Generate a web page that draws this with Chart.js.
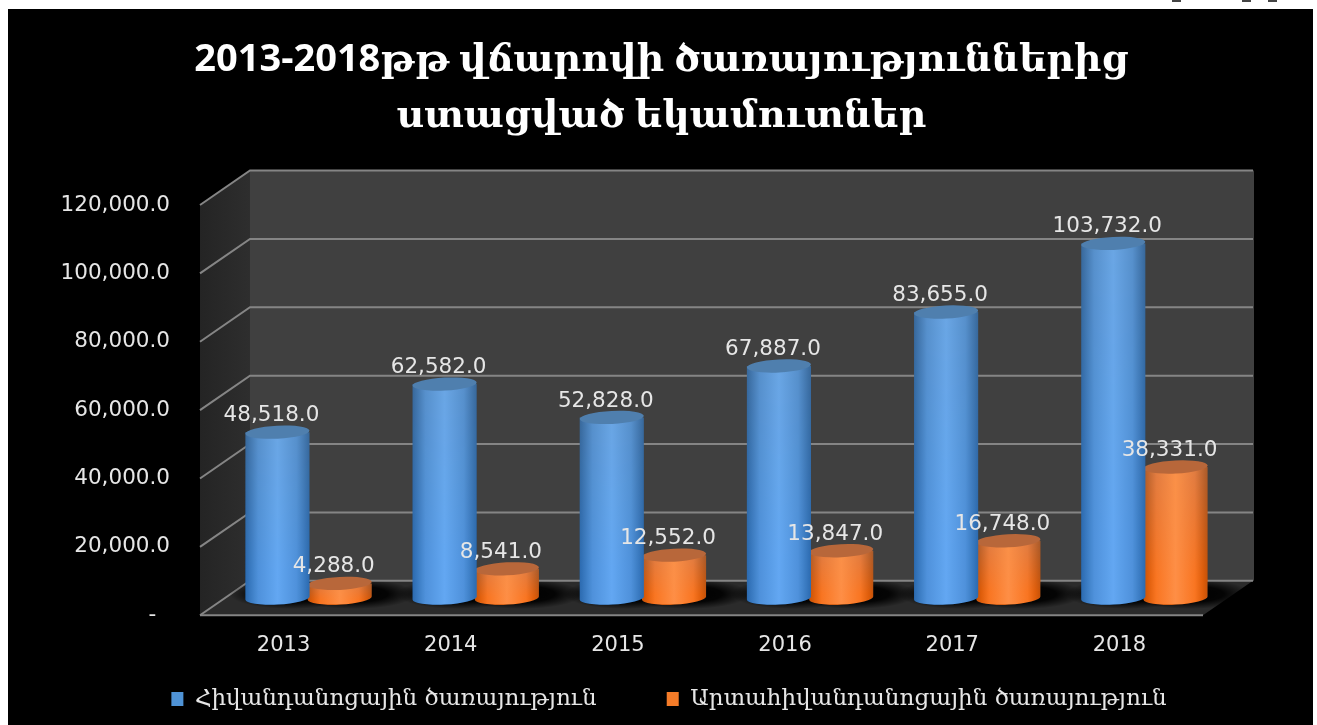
<!DOCTYPE html>
<html>
<head>
    <title>2013-2018</title>
    <script src="https://cdn.jsdelivr.net/npm/chart.js"></script>
    <style>
        html, body { margin: 0; padding: 0; background: #fff; }
        #wrap { width: 1317px; height: 725px; }
    </style>
</head>
<body>
    <div id="wrap"><canvas id="incomeChart" width="1317" height="725"></canvas></div>
    <script>
        const years = ['2013', '2014', '2015', '2016', '2017', '2018'];
        const inpatient = [48518, 62582, 52828, 67887, 83655, 103732];
        const outpatient = [4288, 8541, 12552, 13847, 16748, 38331];
        const seriesNames = ['Հիվանդանոցային ծառայություն', 'Արտահիվանդանոցային ծառայություն'];
        const titleLines = ['2013-2018թթ վճարովի ծառայություններից', 'ստացված եկամուտներ'];
        const seriesColors = ['#4f93d6', '#f47b28'];

        const cylinderColors = {
            '#4f93d6': { edge: '#38689a', mid: '#5790cb', light: '#6aa6e4', top: '#4f7fae', tint: '60,135,220', strength: 0.55 },
            '#f47b28': { edge: '#a85a2a', mid: '#e07c42', light: '#fa9048', top: '#b8673a', tint: '255,115,25', strength: 0.8 }
        };
        const depthX = 50, depthY = 34.5;

        // cylinder instead of flat bar
        Chart.BarElement.prototype.draw = function (ctx) {
            const { x, y, base, width } = this.getProps(['x', 'y', 'base', 'width']);
            const c = cylinderColors[this.options.backgroundColor];
            const rx = width / 2, ry = 6.5, left = x - rx;

            ctx.save();
            const side = ctx.createLinearGradient(left, 0, left + width, 0);
            side.addColorStop(0, c.edge);
            side.addColorStop(0.2, c.mid);
            side.addColorStop(0.5, c.light);
            side.addColorStop(0.8, c.mid);
            side.addColorStop(1, c.edge);
            ctx.beginPath();
            ctx.moveTo(left, y);
            ctx.lineTo(left, base);
            ctx.ellipse(x, base, rx, ry, -0.05, Math.PI, 0, true);
            ctx.lineTo(left + width, y);
            ctx.closePath();
            ctx.fillStyle = side;
            ctx.fill();

            // lower part more saturated, 'color' keeps the round shading
            const shade = ctx.createLinearGradient(0, y, 0, base + ry);
            shade.addColorStop(0, `rgba(${c.tint},0)`);
            shade.addColorStop(0.8, `rgba(${c.tint},${c.strength})`);
            shade.addColorStop(1, `rgba(${c.tint},${c.strength})`);
            ctx.globalCompositeOperation = 'color';
            ctx.fillStyle = shade;
            ctx.fill();
            ctx.globalCompositeOperation = 'source-over';

            ctx.beginPath();
            ctx.ellipse(x, y, rx, ry, -0.05, 0, Math.PI * 2);
            ctx.fillStyle = c.top;
            ctx.fill();
            ctx.restore();
        };

        const room = {
            id: 'room',
            afterLayout(chart) {
                // title and legend are not centred on the plot in the original
                chart.titleBlock.left += 35;
                chart.titleBlock.right += 35;
                chart.legend.left += 42.5;
                chart.legend.right += 42.5;
            },
            beforeDraw(chart) {
                const { ctx, chartArea: a, scales: { y } } = chart;
                ctx.save();
                ctx.fillStyle = '#000';
                ctx.fillRect(8, 9, chart.width - 12, chart.height - 9);

                // cut off bits of text above the slide
                ctx.fillStyle = '#444';
                [1172, 1242, 1268].forEach(x => ctx.fillRect(x, 0, 9, 2));

                // back wall
                ctx.fillStyle = '#404040';
                ctx.fillRect(a.left + depthX, a.top - depthY, a.width + 1, a.height);

                // side wall
                const sideFill = ctx.createLinearGradient(a.left, 0, a.left + depthX, 0);
                sideFill.addColorStop(0, '#242424');
                sideFill.addColorStop(1, '#2e2e2e');
                ctx.fillStyle = sideFill;
                ctx.beginPath();
                ctx.moveTo(a.left, a.top);
                ctx.lineTo(a.left + depthX, a.top - depthY);
                ctx.lineTo(a.left + depthX, a.bottom - depthY);
                ctx.lineTo(a.left, a.bottom);
                ctx.closePath();
                ctx.fill();

                // floor
                ctx.fillStyle = '#2b2b2b';
                ctx.beginPath();
                ctx.moveTo(a.left, a.bottom);
                ctx.lineTo(a.left + depthX, a.bottom - depthY);
                ctx.lineTo(a.right + depthX, a.bottom - depthY);
                ctx.lineTo(a.right, a.bottom);
                ctx.closePath();
                ctx.fill();

                // grid
                ctx.strokeStyle = '#858585';
                ctx.lineWidth = 2;
                y.ticks.forEach(t => {
                    const py = y.getPixelForValue(t.value);
                    ctx.beginPath();
                    ctx.moveTo(a.left, py);
                    ctx.lineTo(a.left + depthX, py - depthY);
                    ctx.lineTo(a.right + depthX, py - depthY);
                    ctx.stroke();
                });
                ctx.beginPath();
                ctx.moveTo(a.left, a.bottom);
                ctx.lineTo(a.right, a.bottom);
                ctx.stroke();
                ctx.restore();
            },
            beforeDatasetsDraw(chart) {
                const { ctx, chartArea: a } = chart;
                // soft shadows, on the floor only
                ctx.save();
                ctx.beginPath();
                ctx.rect(a.left, a.bottom - depthY + 1, a.width + depthX, depthY - 2);
                ctx.clip();
                ctx.translate(depthX / 2, -depthY / 2);
                chart.data.datasets.forEach((ds, i) => {
                    chart.getDatasetMeta(i).data.forEach(bar => {
                        const rx = bar.width / 2 + 30;
                        ctx.save();
                        ctx.translate(bar.x + 14, bar.base - 4);
                        ctx.scale(1, 15 / rx);
                        const blur = ctx.createRadialGradient(0, 0, 0, 0, 0, rx);
                        blur.addColorStop(0, 'rgba(0,0,0,1)');
                        blur.addColorStop(0.55, 'rgba(0,0,0,0.9)');
                        blur.addColorStop(1, 'rgba(0,0,0,0)');
                        ctx.fillStyle = blur;
                        ctx.beginPath();
                        ctx.arc(0, 0, rx, 0, Math.PI * 2);
                        ctx.fill();
                        ctx.restore();
                    });
                });
                ctx.restore();
                // cylinders stand halfway into the floor
                ctx.save();
                ctx.translate(depthX / 2, -depthY / 2);
            },
            afterDatasetsDraw(chart) {
                const { ctx } = chart;
                ctx.restore();
                ctx.save();
                ctx.translate(depthX / 2, -depthY / 2);
                ctx.font = '21.5px "DejaVu Sans"';
                ctx.fillStyle = '#e6e6e6';
                ctx.textAlign = 'center';
                ctx.textBaseline = 'middle';
                chart.data.datasets.forEach((ds, i) => {
                    chart.getDatasetMeta(i).data.forEach((bar, j) => {
                        ctx.fillText(ds.data[j].toLocaleString('en-US', { minimumFractionDigits: 1 }), bar.x - 6, bar.y - 16.5);
                    });
                });
                ctx.restore();
            }
        };

        new Chart(document.getElementById('incomeChart'), {
            type: 'bar',
            data: {
                labels: years,
                datasets: [
                    { label: seriesNames[0], data: inpatient, backgroundColor: seriesColors[0], clip: false },
                    { label: seriesNames[1], data: outpatient, backgroundColor: seriesColors[1], clip: false }
                ]
            },
            options: {
                responsive: false,
                animation: false,
                layout: { padding: { left: 50, right: 114, top: 0, bottom: 4.5 } },
                datasets: { bar: { categoryPercentage: 0.745, barPercentage: 1.03 } },
                scales: {
                    x: {
                        grid: { display: false },
                        border: { display: false },
                        ticks: { color: '#e6e6e6', font: { family: 'DejaVu Sans', size: 21 }, padding: 10 }
                    },
                    y: {
                        min: 0,
                        max: 120000,
                        grid: { display: false },
                        border: { display: false },
                        afterFit: s => { s.width = 150; },
                        ticks: {
                            stepSize: 20000,
                            color: '#e6e6e6',
                            font: { family: 'DejaVu Sans', size: 21.5 },
                            padding: 22,
                            callback: v => v === 0 ? '-\u00a0\u00a0' : v.toLocaleString('en-US', { minimumFractionDigits: 1 })
                        }
                    }
                },
                plugins: {
                    tooltip: { enabled: false },
                    title: {
                        display: true,
                        text: titleLines,
                        color: '#fff',
                        font: { family: '"Open Sans", "DejaVu Serif"', size: 38, weight: 'bold', lineHeight: 1.474 },
                        padding: { top: 32, bottom: 61 }
                    },
                    legend: {
                        position: 'bottom',
                        labels: {
                            color: '#e6e6e6',
                            font: { family: '"DejaVu Serif"', size: 23 },
                            boxWidth: 12,
                            boxHeight: 14,
                            padding: 19,
                            // wider gap between the two items than labels.padding gives
                            generateLabels(chart) {
                                const items = Chart.defaults.plugins.legend.labels.generateLabels(chart);
                                items[0].text += '\u00a0'.repeat(7);
                                return items;
                            }
                        }
                    }
                }
            },
            plugins: [room]
        });
    </script>
</body>
</html>
